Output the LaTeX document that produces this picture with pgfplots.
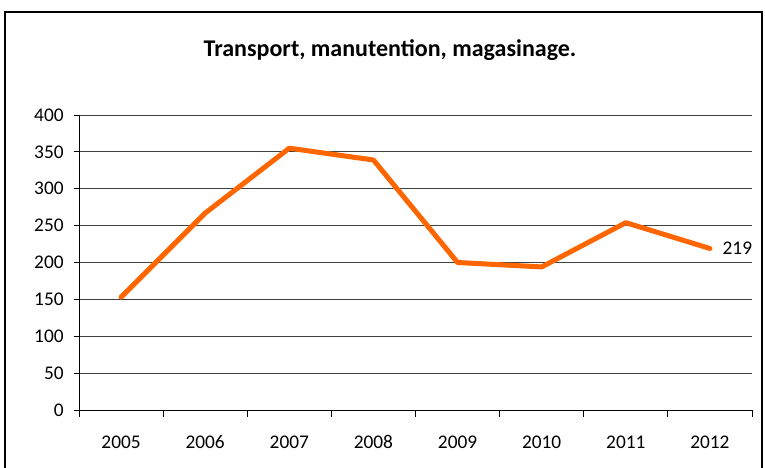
\documentclass[border=0pt]{standalone}
\usepackage{pgfplots}
\pgfplotsset{compat=1.18}
\usepackage{fontspec}
\setmainfont{Carlito}
\definecolor{lineorange}{RGB}{255,102,0}
\begin{document}
\begin{tikzpicture}[x=1pt,y=1pt]
\path[use as bounding box] (-59.25,-43.5) rectangle (514.5,307.5);
\draw[black, line width=0.8pt] (-55.5,-60) -- (-55.5,298.5) -- (512.25,298.5) -- (512.25,-60);
\node[font=\fontsize{18}{21}\selectfont\bfseries] at (233.25,270) {Transport, manutention, magasinage.};
\begin{axis}[
  at={(0,0)}, anchor=south west,
  scale only axis, width=504.75pt, height=221.25pt,
  xmin=-0.5, xmax=7.5, ymin=0, ymax=400,
  xtick={0,...,7},
  xticklabels={2005,2006,2007,2008,2009,2010,2011,2012},
  minor xtick={-0.5,0.5,...,7.5},
  ytick={0,50,...,400},
  major x tick style={draw=none},
  tick align=outside,
  minor tick length=5pt, major tick length=4pt,
  minor x tick style={black, line width=0.6pt},
  y tick style={black, line width=0.6pt},
  ymajorgrids, grid style={black!75, line width=0.7pt},
  axis x line*=bottom, axis y line*=left,
  axis line style={black, line width=0.7pt, -},
  ticklabel style={font=\fontsize{14.5}{17}\selectfont},
  /pgf/number format/assume math mode=true,
  xticklabel style={yshift=-11pt, text height=10pt, text depth=0pt},
  yticklabel style={xshift=-4pt},
  clip=false,
]
\addplot[lineorange, line width=3.75pt, line join=round, line cap=round] coordinates {
(0,153) (1,267) (2,355) (3,339) (4,200) (5,194) (6,254) (7,219)};
\node[anchor=west, font=\fontsize{14.5}{17}\selectfont] at (axis cs:7,219) [xshift=6pt] {219};
\end{axis}
\end{tikzpicture}
\end{document}
